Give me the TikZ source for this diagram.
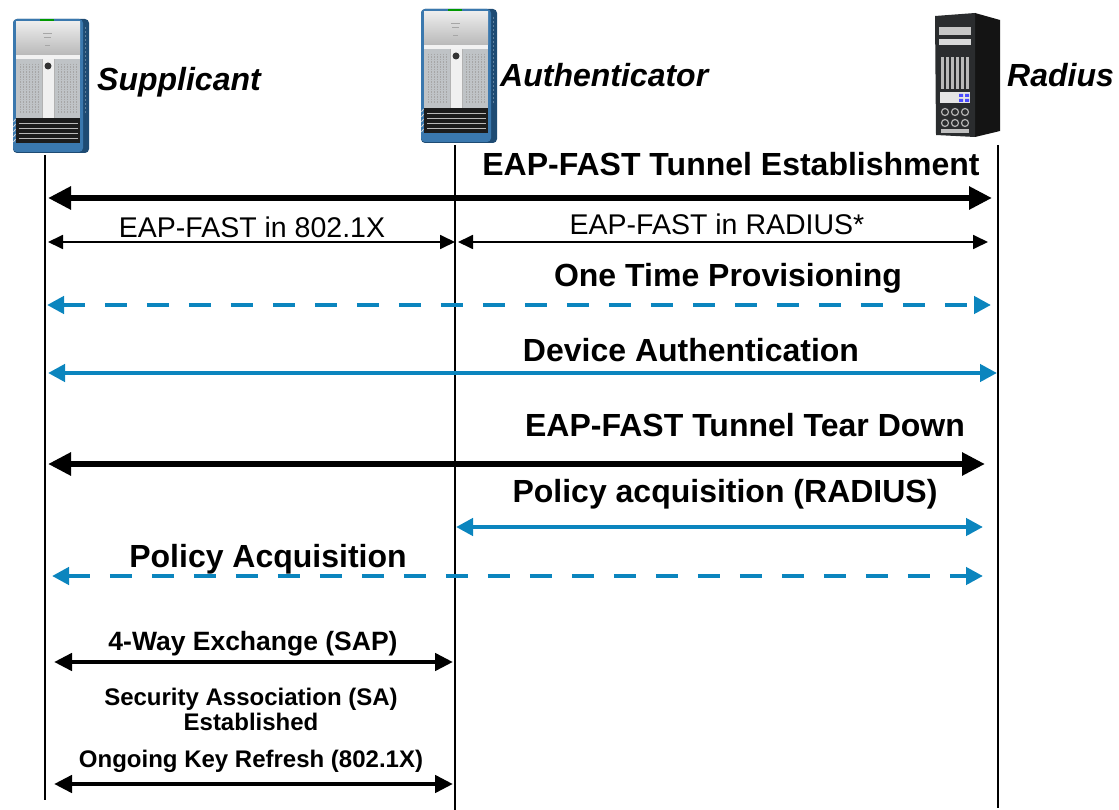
\documentclass[tikz,border=0pt]{standalone}
\usepackage{fontspec}
\setmainfont{Liberation Sans}
\usetikzlibrary{arrows.meta}
\definecolor{flowblue}{HTML}{0B85BE}
\definecolor{chassisblue}{HTML}{3A78AE}
\definecolor{chassisdark}{HTML}{1E4B73}
\definecolor{panelgray}{HTML}{BFC3C6}
\definecolor{ventblack}{HTML}{1C1C1C}
\definecolor{towerblack}{HTML}{2A2C2E}

\tikzset{
  chassis/.pic={
    \fill[chassisdark,rounded corners=4pt] (0,0) rectangle (76,134);
    \fill[chassisblue,rounded corners=4pt] (0,0) rectangle (70,133);
    \shade[top color=gray!15,bottom color=gray!55] (3,3) rectangle (67,36);
    \fill[gray!10] (3,36) rectangle (67,40);
    \fill[green!60!black] (27,0.5) rectangle (41,2.5);
    \draw[gray!70,line width=0.7pt] (30,14) -- (39,14) (31,18) -- (38,18) (32,26) -- (37,26);
    \fill[panelgray] (3,40) rectangle (67,99);
    \foreach \x in {7,10,...,25,45,48,...,64}
      \draw[gray!70,line width=0.8pt,dash pattern=on 1.5pt off 1pt] (\x,45) -- (\x,95);
    \fill[gray!12] (29,40) rectangle (41,99);
    \draw[gray!60,line width=0.5pt] (29,40) -- (29,99) (41,40) -- (41,99);
    \fill[black!80] (35,47) circle (3.5);
    \fill[ventblack] (3,99) rectangle (67,124);
    \foreach \y in {104,109,...,121}
      \draw[gray!55,line width=0.6pt] (6,\y) -- (65,\y);
    \foreach \y in {103,108,...,123}
      \draw[gray!30,line width=0.7pt] (0.5,\y) -- (2.5,\y-3);
    \draw[chassisdark!70,line width=1pt,dash pattern=on 2pt off 2pt] (72.5,8) -- (72.5,95);
  },
  tower/.pic={
    \fill[black!92] (40,0) -- (65,7) -- (65,118) -- (40,124) -- cycle;
    \fill[towerblack] (0,3) -- (40,0) -- (40,124) -- (1,122) -- cycle;
    \fill[gray!45] (4,14) rectangle (36,22);
    \fill[gray!30] (4,26) rectangle (36,32);
    \foreach \x in {6,11,...,31}
      \fill[gray!55] (\x,44) rectangle (\x+3,76);
    \fill[gray!20] (5,79) rectangle (35,90);
    \fill[blue!70] (24,81) rectangle (28,84) (30,81) rectangle (34,84)
      (24,86) rectangle (28,89) (30,86) rectangle (34,89);
    \foreach \x in {10,20,30}
      \draw[gray!60,line width=1.2pt] (\x,99) circle (3.5) (\x,110) circle (3.5);
    \fill[gray!50] (6,116) rectangle (34,120);
  }
}

\begin{document}
\begin{tikzpicture}[x=1pt,y=-1pt,
  actor/.style={font=\fontsize{32}{36}\selectfont\bfseries\itshape,inner sep=0pt,anchor=base west},
  msg/.style={font=\fontsize{32}{36}\selectfont\bfseries,inner sep=0pt,anchor=base},
  sub/.style={font=\fontsize{28.5}{32}\selectfont,inner sep=0pt,anchor=base},
  note/.style={font=\fontsize{24}{26}\selectfont\bfseries,inner sep=0pt,anchor=base},
  life/.style={line width=1.8pt},
  heavy/.style={line width=6.8pt,{Triangle[length=23pt,width=22pt]}-{Triangle[length=23pt,width=22pt]}},
  light/.style={line width=1.8pt,{Triangle[length=15pt,width=14pt]}-{Triangle[length=15pt,width=14pt]}},
  flow/.style={draw=flowblue,line width=4.5pt,{Triangle[length=17pt,width=17pt]}-{Triangle[length=17pt,width=17pt]}},
  flowdash/.style={flow,dash pattern=on 22pt off 20pt},
  keyx/.style={line width=4.5pt,{Triangle[length=18pt,width=17pt]}-{Triangle[length=18pt,width=17pt]}}
]
\useasboundingbox (0,0) rectangle (1119,810);

% devices
\pic at (13,19) {chassis};
\pic at (421,9) {chassis};
\pic at (935,13) {tower};
\node[actor] (supplicant) at (97,91) {Supplicant};
\node[actor] (authenticator) at (500,87) {Authenticator};
\node[actor] (radius) at (1007,87) {Radius};

% lifelines
\coordinate (supT) at (45,155);  \coordinate (supB) at (45,800);
\coordinate (autT) at (455,145); \coordinate (autB) at (455,810);
\coordinate (radT) at (998,145); \coordinate (radB) at (998,808);
\draw[life] (supT) -- (supB);
\draw[life] (autT) -- (autB);
\draw[life] (radT) -- (radB);

% message ends
\coordinate (tunS) at (48,198);   \coordinate (tunR) at (992,198);
\coordinate (dotS) at (48,242);   \coordinate (dotA) at (455,242);
\coordinate (radA) at (458,242);  \coordinate (radR) at (988,242);
\coordinate (otpS) at (47,305);   \coordinate (otpR) at (991,305);
\coordinate (devS) at (48,373);   \coordinate (devR) at (997,373);
\coordinate (tdS) at (48,464);    \coordinate (tdR) at (985,464);
\coordinate (polA) at (456,527);  \coordinate (polR) at (983,527);
\coordinate (acqS) at (52,576);   \coordinate (acqR) at (983,576);
\coordinate (sapS) at (54,662);   \coordinate (sapA) at (453,662);
\coordinate (keyS) at (54,784);   \coordinate (keyA) at (453,784);

\node[msg] (establish) at (731,176) {EAP-FAST Tunnel Establishment};
\draw[heavy] (tunS) -- (tunR);
\node[sub] (in8021x) at (252,238) {EAP-FAST in 802.1X};
\draw[light] (dotS) -- (dotA);
\node[sub] (inradius) at (717,235) {EAP-FAST in RADIUS*};
\draw[light] (radA) -- (radR);
\node[msg] (provision) at (728,287) {One Time Provisioning};
\draw[flowdash] (otpS) -- (otpR);
\node[msg] (devauth) at (691,361) {Device Authentication};
\draw[flow] (devS) -- (devR);
\node[msg] (teardown) at (745,436) {EAP-FAST Tunnel Tear Down};
\draw[heavy] (tdS) -- (tdR);
\node[msg] (polradius) at (725,502) {Policy acquisition (RADIUS)};
\draw[flow] (polA) -- (polR);
\node[msg] (policy) at (268,567) {Policy Acquisition};
\draw[flowdash] (acqS) -- (acqR);
\node[note,font=\fontsize{26.5}{28}\selectfont\bfseries] (sap) at (253,650) {4-Way Exchange (SAP)};
\draw[keyx] (sapS) -- (sapA);
\node[note] (sa) at (251,705) {Security Association (SA)};
\node[note] (saest) at (251,730) {Established};
\node[note] (rekey) at (251,767) {Ongoing Key Refresh (802.1X)};
\draw[keyx] (keyS) -- (keyA);
\end{tikzpicture}
\end{document}
